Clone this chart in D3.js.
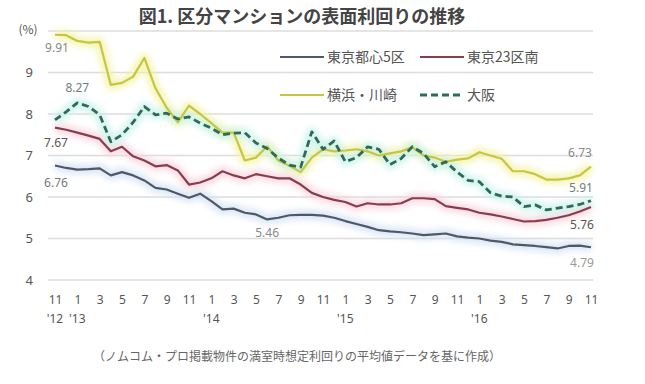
<!DOCTYPE html>
<html>
<head>
<meta charset="utf-8">
<script src="https://cdn.jsdelivr.net/npm/d3@7"></script>
<style>
  body { margin: 0; background: #fff; }
  svg { display: block; font-family: "Noto Sans CJK JP", "Noto Sans", sans-serif; }
</style>
</head>
<body>
<svg id="chart"></svg>
<script>
// months from Nov 2012 (index 0) to Nov 2016 (index 48)
var monthLabels = ["11","1","3","5","7","9","11","1","3","5","7","9","11","1","3","5","7","9","11","1","3","5","7","9","11"];
var yearIdx = [0, 2, 14, 26, 38];
var yearText = ["'12", "'13", "'14", "'15", "'16"];
var yTicks = [4, 5, 6, 7, 8, 9];

var tokyo5 = [6.76,6.70,6.66,6.67,6.69,6.52,6.60,6.52,6.40,6.22,6.18,6.08,5.98,6.08,5.90,5.70,5.72,5.62,5.58,5.46,5.50,5.56,5.57,5.57,5.55,5.50,5.42,5.35,5.28,5.20,5.17,5.15,5.12,5.08,5.10,5.12,5.05,5.02,5.00,4.95,4.92,4.86,4.84,4.82,4.79,4.76,4.82,4.83,4.79];
var tokyo23s = [7.67,7.62,7.55,7.48,7.40,7.10,7.21,6.98,6.88,6.74,6.77,6.64,6.30,6.35,6.45,6.62,6.52,6.45,6.55,6.50,6.45,6.45,6.30,6.10,6.00,5.93,5.88,5.77,5.85,5.82,5.82,5.85,5.97,5.97,5.95,5.78,5.74,5.70,5.62,5.58,5.53,5.47,5.41,5.42,5.45,5.50,5.56,5.65,5.76];
var yokohama = [9.91,9.90,9.76,9.72,9.74,8.70,8.75,8.90,9.35,8.62,8.15,7.80,8.20,8.00,7.78,7.55,7.55,6.88,6.95,7.22,6.88,6.75,6.60,6.95,7.15,7.10,7.12,7.15,7.10,7.00,7.05,7.10,7.20,7.00,6.95,6.85,6.90,6.93,7.08,7.00,6.92,6.62,6.62,6.55,6.42,6.42,6.45,6.52,6.73];
var osaka = [7.86,8.05,8.27,8.18,7.98,7.33,7.50,7.80,8.18,7.98,8.02,7.88,7.93,7.78,7.66,7.50,7.54,7.55,7.30,7.17,6.94,6.77,6.72,7.57,7.15,7.35,6.85,6.95,7.21,7.15,6.78,6.93,7.21,7.05,6.73,6.85,6.60,6.40,6.37,6.10,6.02,6.00,5.77,5.81,5.69,5.73,5.77,5.82,5.91];

var seriesNames = ["東京都心5区", "東京23区南", "横浜・川崎", "大阪"];

var width = 645, height = 384;
var svg = d3.select("#chart").attr("width", width).attr("height", height);

var x = d3.scaleLinear().domain([0, 48]).range([55, 591]);
var y = d3.scaleLinear().domain([4, 10]).range([280, 31]);

var defs = svg.append("defs");
defs.append("filter").attr("id", "glow")
  .attr("x", "-10%").attr("y", "-30%").attr("width", "120%").attr("height", "160%")
  .append("feGaussianBlur").attr("stdDeviation", 3);

// title
svg.append("text")
  .attr("x", 302).attr("y", 23)
  .attr("text-anchor", "middle")
  .attr("font-size", 18).attr("font-weight", "bold")
  .attr("fill", "#444")
  .text("図1. 区分マンションの表面利回りの推移");

// gridlines
svg.append("g")
  .selectAll("line")
  .data(d3.range(4, 11))
  .enter().append("line")
  .attr("x1", 48).attr("x2", 593)
  .attr("y1", function (d) { return y(d); })
  .attr("y2", function (d) { return y(d); })
  .attr("stroke", "#dcdcdc").attr("stroke-width", 1.6);

// y axis labels
var yAxis = svg.append("g")
  .attr("transform", "translate(36,0)")
  .call(d3.axisLeft(y).tickValues(yTicks).tickSize(0).tickFormat(d3.format("d")));
yAxis.select(".domain").remove();
yAxis.selectAll("text").attr("font-size", 13).attr("fill", "#555")
  .attr("font-family", "Noto Sans, sans-serif");

svg.append("text")
  .attr("x", 28).attr("y", 34)
  .attr("text-anchor", "middle")
  .attr("font-size", 12).attr("fill", "#555")
  .text("(%)");

// x axis labels
var xAxis = svg.append("g")
  .attr("transform", "translate(0,292)")
  .call(d3.axisBottom(x)
    .tickValues(d3.range(0, 49, 2))
    .tickSize(0)
    .tickFormat(function (d, i) { return monthLabels[i]; }));
xAxis.select(".domain").remove();
xAxis.selectAll("text").attr("font-size", 12).attr("fill", "#555")
  .attr("font-family", "Noto Sans, sans-serif");

svg.append("g")
  .selectAll("text")
  .data(yearIdx)
  .enter().append("text")
  .attr("x", function (d) { return x(d); })
  .attr("y", 323)
  .attr("text-anchor", "middle")
  .attr("font-size", 12).attr("fill", "#555")
  .attr("font-family", "Noto Sans, sans-serif")
  .text(function (d, i) { return yearText[i]; });

// lines
var line = d3.line()
  .x(function (d, i) { return x(i); })
  .y(function (d) { return y(d); });

var series = [
  { values: tokyo5, color: "#4e5868", halo: "#d4e2f2", dash: null },
  { values: tokyo23s, color: "#8a3c4e", halo: "#f6d3dc", dash: null },
  { values: yokohama, color: "#c6c642", halo: "#f3f3a6", dash: null },
  { values: osaka, color: "#2e6a58", halo: "#c8f2ea", dash: "7,4" }
];

series.forEach(function (s) {
  svg.append("path")
    .datum(s.values)
    .attr("d", line)
    .attr("fill", "none")
    .attr("stroke", s.halo)
    .attr("stroke-width", 10)
    .attr("stroke-linejoin", "round")
    .attr("opacity", 0.8)
    .attr("filter", "url(#glow)");
});

series.forEach(function (s) {
  svg.append("path")
    .datum(s.values)
    .attr("d", line)
    .attr("fill", "none")
    .attr("stroke", s.color)
    .attr("stroke-width", s.dash ? 2.8 : 2.2)
    .attr("stroke-dasharray", s.dash)
    .attr("stroke-linejoin", "round");
});

// value labels
var labels = [
  { s: 2, i: 0, dx: 2, dy: 17, c: "#888" },
  { s: 3, i: 2, dx: 0, dy: -11, c: "#6f7f80" },
  { s: 1, i: 0, dx: 1, dy: 19, c: "#555" },
  { s: 0, i: 0, dx: 1, dy: 22, c: "#777" },
  { s: 0, i: 19, dx: 0, dy: 18, c: "#888" },
  { s: 2, i: 48, dx: -11, dy: -10, c: "#888" },
  { s: 3, i: 48, dx: -10, dy: -9, c: "#6f8080" },
  { s: 1, i: 48, dx: -9, dy: 22, c: "#555" },
  { s: 0, i: 48, dx: -9, dy: 20, c: "#999" }
];
svg.append("g")
  .selectAll("text")
  .data(labels)
  .enter().append("text")
  .attr("x", function (d) { return x(d.i) + d.dx; })
  .attr("y", function (d) { return y(series[d.s].values[d.i]) + d.dy; })
  .attr("text-anchor", "middle")
  .attr("font-size", 12)
  .attr("font-family", "Noto Sans, sans-serif")
  .attr("fill", function (d) { return d.c; })
  .text(function (d) { return series[d.s].values[d.i].toFixed(2); });

// legend
var legendX = [280, 420];
var legendY = [57, 95];
var legend = svg.append("g");
seriesNames.forEach(function (name, k) {
  var lx = legendX[k % 2], ly = legendY[Math.floor(k / 2)];
  legend.append("line")
    .attr("x1", lx).attr("x2", lx + 44)
    .attr("y1", ly).attr("y2", ly)
    .attr("stroke", series[k].halo).attr("stroke-width", 7).attr("opacity", 0.8)
    .attr("filter", "url(#glow)");
  legend.append("line")
    .attr("x1", lx).attr("x2", lx + 44)
    .attr("y1", ly).attr("y2", ly)
    .attr("stroke", series[k].color)
    .attr("stroke-width", series[k].dash ? 2.8 : 2.2)
    .attr("stroke-dasharray", series[k].dash);
  legend.append("text")
    .attr("x", lx + 47).attr("y", ly + 5)
    .attr("font-size", 14).attr("fill", "#555")
    .text(name);
});

// source note
svg.append("text")
  .attr("x", 297).attr("y", 361)
  .attr("text-anchor", "middle")
  .attr("font-size", 12).attr("fill", "#666")
  .text("（ノムコム・プロ掲載物件の満室時想定利回りの平均値データを基に作成）");
</script>
</body>
</html>
